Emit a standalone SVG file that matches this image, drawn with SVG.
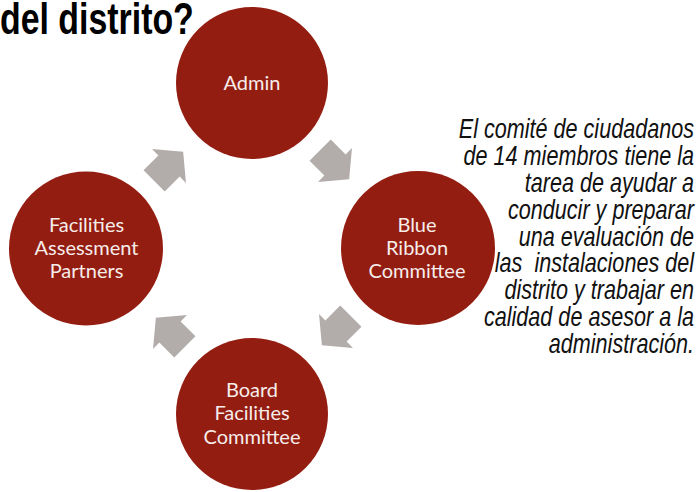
<svg xmlns="http://www.w3.org/2000/svg" xmlns:xlink="http://www.w3.org/1999/xlink" width="699" height="492" viewBox="0 0 699 492">
<style>
.node{fill:#941d11}
.lbl{font-family:Lato,"Open Sans","DejaVu Sans",sans-serif;font-size:20px;fill:#f6edeb;text-anchor:middle}
.arr{fill:#b2acaa}
.desc{font-family:"Liberation Sans",Arial,sans-serif;font-style:italic;font-size:27px;fill:#111;text-anchor:end;white-space:pre}
.title{font-family:"Liberation Sans",Arial,sans-serif;font-weight:bold;font-size:44px;fill:#000}
</style>
<defs>
<polygon id="arrow" points="-21,-15 0,-15 0,-24 20,0 0,24 0,15 -21,15"/>
</defs>
<rect width="699" height="492" fill="#fff"/>
<g transform="translate(0,34) scale(0.77,1)"><text class="title" x="0" y="0">del distrito?</text></g>
<g id="connectors" class="arr">
<use xlink:href="#arrow" transform="translate(169,166) rotate(-45)"/>
<use xlink:href="#arrow" transform="translate(335,165) rotate(45)"/>
<use xlink:href="#arrow" transform="translate(336,331) rotate(135)"/>
<use xlink:href="#arrow" transform="translate(170,332) rotate(-135)"/>
</g>
<g id="admin"><circle class="node" cx="252" cy="83" r="76"/><text class="lbl" x="252" y="89.5">Admin</text></g>
<g id="blue-ribbon"><circle class="node" cx="418" cy="248" r="77"/><text class="lbl" x="417" y="231.5">Blue</text><text class="lbl" x="417" y="254.5">Ribbon</text><text class="lbl" x="417" y="278">Committee</text></g>
<g id="board"><circle class="node" cx="252" cy="414" r="76"/><text class="lbl" x="252" y="397">Board</text><text class="lbl" x="252" y="420">Facilities</text><text class="lbl" x="252" y="443.5">Committee</text></g>
<g id="facilities"><circle class="node" cx="86" cy="248.5" r="77"/><text class="lbl" x="86.5" y="231.5">Facilities</text><text class="lbl" x="86.5" y="254.5">Assessment</text><text class="lbl" x="86.5" y="278">Partners</text></g>
<g transform="translate(694,0) scale(0.8,1)">
<text class="desc" x="0" y="138.5">El comité de ciudadanos</text>
<text class="desc" x="0" y="165.3">de 14 miembros tiene la</text>
<text class="desc" x="0" y="192.1">tarea de ayudar a</text>
<text class="desc" x="0" y="218.9">conducir y preparar</text>
<text class="desc" x="0" y="245.7">una evaluación de</text>
<text class="desc" x="0" y="272.5" xml:space="preserve">las  instalaciones del</text>
<text class="desc" x="0" y="299.3">distrito y trabajar en</text>
<text class="desc" x="0" y="326.1">calidad de asesor a la</text>
<text class="desc" x="0" y="352.9">administración.</text>
</g>
</svg>
